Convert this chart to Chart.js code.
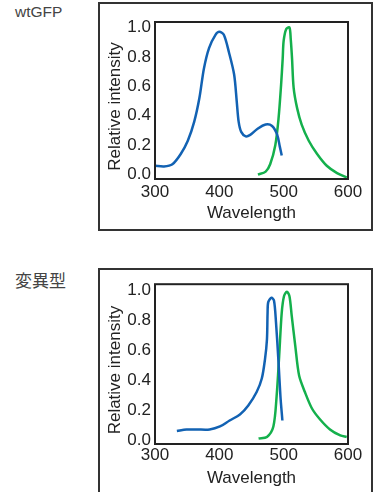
<!DOCTYPE html>
<html>
<head>
<meta charset="utf-8">
<script src="https://cdn.jsdelivr.net/npm/chart.js@4.4.1/dist/chart.umd.min.js"></script>
<style>
    body { margin: 0; background: #fff; width: 374px; height: 492px; overflow: hidden; position: relative; font-family: "Liberation Sans", Arial, sans-serif; }
    .rotulo { position: absolute; left: 15px; color: #444; line-height: 1; }
    .caixa { position: absolute; border: 2px solid #333; box-sizing: border-box; background: #fff; }
    canvas { position: absolute; }
</style>
</head>
<body>
<div class="rotulo" style="top:4px; font-size:15.5px;">wtGFP</div>
<div class="caixa" style="left:98px; top:2px; width:275px; height:229px;"></div>
<canvas id="chartWt" style="left:100px; top:4px; width:270px; height:224px;"></canvas>

<div class="rotulo" style="top:271px; font-size:17px; font-family:'Noto Sans CJK JP', sans-serif;">変異型</div>
<div class="caixa" style="left:98px; top:268px; width:275px; height:240px;"></div>
<canvas id="chartMu" style="left:100px; top:270px; width:270px; height:222px;"></canvas>

<script>
// wtGFP - excitation (blue) and emission (green)
const wtExNm  = [300, 314, 327, 340, 351, 361, 369, 376, 384, 394, 400, 407, 415, 423, 427, 430, 434, 441, 448, 459, 472, 482, 490, 494, 497];
const wtExVal = [0.06, 0.055, 0.07, 0.14, 0.23, 0.36, 0.52, 0.72, 0.86, 0.95, 0.97, 0.95, 0.83, 0.68, 0.50, 0.36, 0.29, 0.26, 0.27, 0.31, 0.34, 0.33, 0.27, 0.19, 0.13];
const wtEmNm  = [460, 472, 479, 487, 492, 496, 498.5, 500, 504, 509, 511, 513, 515.5, 521, 528, 539, 552, 567, 583, 598];
const wtEmVal = [0.0, 0.02, 0.07, 0.20, 0.38, 0.61, 0.79, 0.91, 0.99, 1.0, 0.92, 0.79, 0.59, 0.45, 0.34, 0.23, 0.14, 0.06, 0.01, -0.02];

// 変異型 - excitation (blue) and emission (green)
const muExNm  = [334, 349, 365, 385, 401, 416, 432, 445, 458, 466, 471, 474, 475, 476, 481, 485, 488, 492, 495, 498];
const muExVal = [0.06, 0.07, 0.07, 0.07, 0.09, 0.13, 0.17, 0.23, 0.32, 0.41, 0.54, 0.67, 0.85, 0.92, 0.95, 0.93, 0.79, 0.52, 0.29, 0.13];
const muEmNm  = [461, 474, 484, 489, 493, 497, 500.5, 505, 509, 512.5, 518, 524, 533, 544, 556, 572, 588, 598];
const muEmVal = [0.01, 0.02, 0.09, 0.29, 0.56, 0.85, 0.96, 0.99, 0.96, 0.83, 0.63, 0.43, 0.32, 0.21, 0.14, 0.07, 0.03, 0.02];

const yTicks = [0, 0.2, 0.4, 0.6, 0.8, 1.0];
const xTicks = [300, 400, 500, 600];
const yTitulo = 'Relative intensity';
const xTitulo = 'Wavelength';

const CORES = {
    azul: '#1262b3',
    verde: '#14b04c',
    texto: '#222',
    moldura: '#222'
};

const fonte = { family: "'Liberation Sans', Arial, sans-serif", size: 17 };

// border around the plot area + y title (sits a bit below centre in the original)
const molduraPlugin = {
    id: 'moldura',
    afterDraw(chart) {
        const a = chart.chartArea;
        const ctx = chart.ctx;
        ctx.save();
        ctx.strokeStyle = CORES.moldura;
        ctx.lineWidth = 2;
        ctx.strokeRect(a.left, a.top, a.right - a.left, a.bottom - a.top);

        ctx.translate(15, (a.top + a.bottom) / 2 + 6);
        ctx.rotate(-Math.PI / 2);
        ctx.fillStyle = CORES.texto;
        ctx.font = fonte.size + 'px ' + fonte.family;
        ctx.textAlign = 'center';
        ctx.textBaseline = 'middle';
        ctx.fillText(yTitulo, 0, 0);
        ctx.restore();
    }
};

function pontos(nm, val) {
    return nm.map((x, i) => ({ x: x, y: val[i] }));
}

function criarGrafico(id, exNm, exVal, emNm, emVal, cfg) {
    const ctx = document.getElementById(id).getContext('2d');
    return new Chart(ctx, {
        type: 'line',
        data: {
            datasets: [
                { data: pontos(exNm, exVal), borderColor: CORES.azul },
                { data: pontos(emNm, emVal), borderColor: CORES.verde }
            ]
        },
        options: {
            responsive: false,
            animation: false,
            devicePixelRatio: 1,
            layout: { padding: { top: cfg.padTop, right: 22, left: 0, bottom: 0 } },
            elements: {
                point: { radius: 0 },
                line: { borderWidth: 2.5, tension: 0.3, fill: false }
            },
            plugins: { legend: { display: false }, tooltip: { enabled: false } },
            scales: {
                x: {
                    type: 'linear',
                    min: 300, max: 600,
                    afterFit: s => { s.height = cfg.xHeight; },
                    afterBuildTicks: s => { s.ticks = xTicks.map(v => ({ value: v })); },
                    grid: { display: false, drawTicks: false },
                    border: { display: false },
                    ticks: { color: CORES.texto, font: fonte, padding: cfg.xPad, maxRotation: 0 },
                    title: { display: true, text: xTitulo, color: CORES.texto, font: fonte, padding: { top: 0, bottom: cfg.titlePad } }
                },
                y: {
                    min: cfg.yMin, max: cfg.yMax,
                    afterFit: s => { s.width = 55; },
                    afterBuildTicks: s => { s.ticks = yTicks.map(v => ({ value: v })); },
                    grid: { display: false, drawTicks: false },
                    border: { display: false },
                    ticks: { color: CORES.texto, font: fonte, padding: 4, callback: v => v.toFixed(1) },
                    title: { display: false }
                }
            }
        },
        plugins: [molduraPlugin]
    });
}

document.getElementById('chartWt').width = 270;
document.getElementById('chartWt').height = 224;
document.getElementById('chartMu').width = 270;
document.getElementById('chartMu').height = 222;

criarGrafico('chartWt', wtExNm, wtExVal, wtEmNm, wtEmVal,
    { padTop: 18, xHeight: 49, xPad: 3, titlePad: 4, yMin: -0.03, yMax: 1.037 });
criarGrafico('chartMu', muExNm, muExVal, muEmNm, muEmVal,
    { padTop: 14, xHeight: 48, xPad: 1, titlePad: 3, yMin: -0.027, yMax: 1.04 });
</script>
</body>
</html>
